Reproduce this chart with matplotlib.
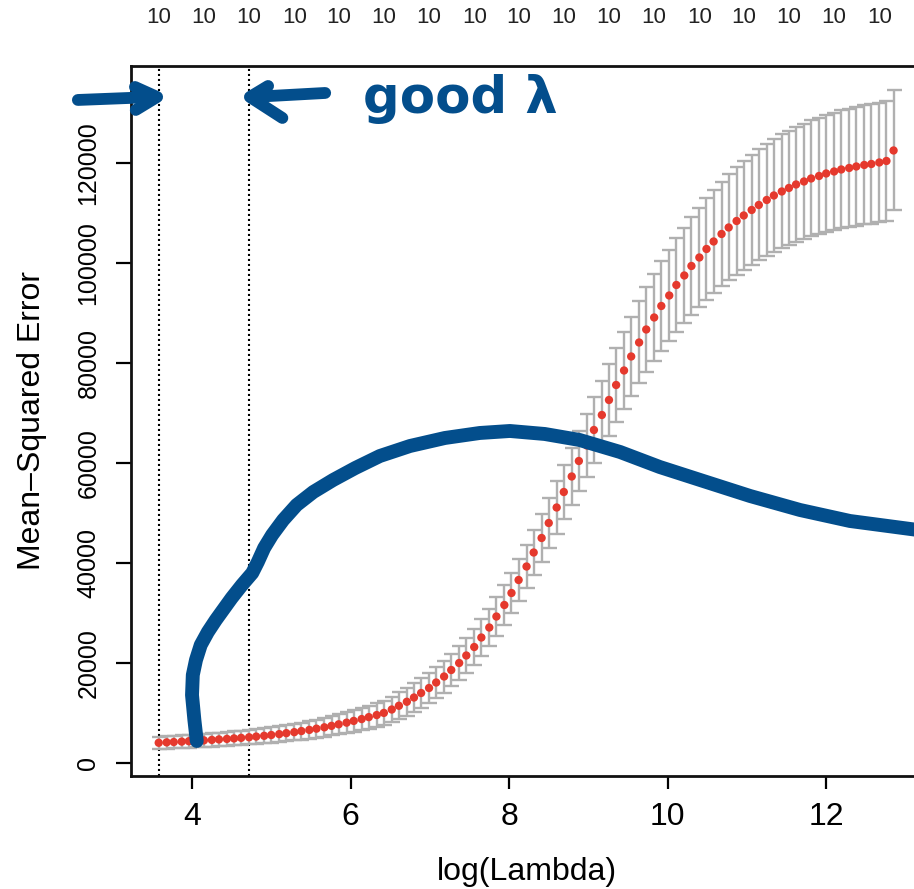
import matplotlib.pyplot as plt

plt.rcParams['font.family'] = ['Liberation Sans', 'DejaVu Sans']

# log(lambda) grid of the cv fit
log_lambda = [3.58, 3.68, 3.77, 3.87, 3.96, 4.06, 4.15, 4.25, 4.34, 4.44,
              4.53, 4.62, 4.72, 4.81, 4.91, 5.00, 5.10, 5.19, 5.29, 5.38,
              5.48, 5.57, 5.67, 5.76, 5.85, 5.95, 6.04, 6.14, 6.23, 6.33,
              6.42, 6.52, 6.61, 6.71, 6.80, 6.89, 6.99, 7.08, 7.18, 7.27,
              7.37, 7.46, 7.56, 7.65, 7.75, 7.84, 7.94, 8.03, 8.12, 8.22,
              8.31, 8.41, 8.50, 8.60, 8.69, 8.79, 8.88, 8.98, 9.07, 9.17,
              9.26, 9.35, 9.45, 9.54, 9.64, 9.73, 9.83, 9.92, 10.02, 10.11,
              10.21, 10.30, 10.40, 10.49, 10.58, 10.68, 10.77, 10.87, 10.96, 11.06,
              11.15, 11.25, 11.34, 11.44, 11.53, 11.62, 11.72, 11.81, 11.91, 12.00,
              12.10, 12.19, 12.29, 12.38, 12.48, 12.57, 12.67, 12.76, 12.85]

mse = [4050, 4130, 4200, 4280, 4360, 4440, 4530, 4620, 4720, 4820,
       4920, 5030, 5150, 5290, 5440, 5600, 5780, 5970, 6170, 6390,
       6620, 6870, 7140, 7430, 7740, 8070, 8420, 8790, 9180, 9590,
       10020, 10700, 11450, 12250, 13100, 14000, 15000, 16100, 17300, 18600,
       20000, 21500, 23200, 25100, 27100, 29300, 31600, 34000, 36600, 39300,
       42100, 45000, 48000, 51100, 54200, 57300, 60400, 63500, 66600, 69600,
       72600, 75600, 78500, 81300, 84100, 86700, 89100, 91400, 93500, 95600,
       97500, 99400, 101100, 102800, 104300, 105800, 107100, 108400, 109500, 110600,
       111600, 112600, 113500, 114300, 115000, 115700, 116300, 116900, 117400, 117900,
       118300, 118700, 119000, 119300, 119600, 119800, 120100, 120400, 122500]

mse_se = [1250, 1260, 1270, 1280, 1290, 1300, 1310, 1330, 1350, 1370,
          1390, 1410, 1430, 1460, 1490, 1520, 1560, 1600, 1640, 1690,
          1740, 1790, 1850, 1910, 1980, 2050, 2130, 2210, 2300, 2390,
          2480, 2570, 2660, 2750, 2840, 2930, 3020, 3110, 3200, 3290,
          3380, 3470, 3560, 3650, 3740, 3830, 3920, 4050, 4200, 4370,
          4560, 4770, 5000, 5240, 5490, 5750, 6020, 6300, 6580, 6860,
          7140, 7420, 7700, 7950, 8200, 8450, 8700, 8950, 9150, 9350,
          9550, 9750, 9950, 10150, 10300, 10450, 10600, 10750, 10900, 11000,
          11100, 11200, 11300, 11400, 11450, 11500, 11550, 11600, 11650, 11700,
          11750, 11800, 11850, 11900, 11900, 11950, 11950, 12000, 12000]

n_nonzero = [10] * len(log_lambda)
lambda_min = 3.58
lambda_1se = 4.72

# hand drawn marks on top of the plot (data coords)
scribble_x = [4.06, 4.03, 4.00, 4.01, 4.05, 4.11, 4.20, 4.30, 4.40, 4.50,
              4.63, 4.76, 4.83, 4.91, 5.01, 5.15, 5.32, 5.53, 5.78, 6.06,
              6.37, 6.75, 7.19, 7.63, 8.01, 8.45, 8.89, 9.40, 9.90, 10.41,
              11.04, 11.67, 12.30, 13.30]
scribble_y = [4400, 8600, 13600, 17600, 20600, 23600, 26200, 28600, 30800, 33000,
              35600, 38000, 40200, 43000, 45600, 48600, 51600, 54200, 56600, 59000,
              61400, 63400, 65000, 66000, 66400, 65800, 64600, 62200, 59200, 56600,
              53400, 50600, 48400, 46300]
arrow_left_x = [2.56, 3.53]
arrow_left_y = [132600, 133200]
head_left_x = [3.28, 3.56, 3.29]
head_left_y = [135200, 133200, 130600]
arrow_right_x = [5.68, 4.76]
arrow_right_y = [134000, 133200]
head_right_x = [4.96, 4.73, 5.14]
head_right_y = [135400, 133200, 129000]
note_text = 'good λ'

ink = '#034e8c'

fig = plt.figure(figsize=(9.14, 8.89), dpi=100)
ax = fig.add_axes([0.1433, 0.1271, 0.8621, 0.7987])

ax.errorbar(log_lambda, mse, yerr=mse_se, fmt='none', ecolor='#b0b0b0',
            elinewidth=1.7, capsize=5.4, capthick=1.7, zorder=2)
ax.scatter(log_lambda, mse, s=36, color='#e5392d', edgecolors='none', zorder=3)

for v in (lambda_min, lambda_1se):
    ax.axvline(v, color='black', linestyle=(0, (1, 1.4)), linewidth=1.5, zorder=1.5)

ax.set_xlim(3.23, 13.17)
ax.set_ylim(-2600, 139400)

for s in ax.spines.values():
    s.set_linewidth(2)
    s.set_color('#111111')

ax.set_xticks([4, 6, 8, 10, 12])
ax.tick_params(axis='x', direction='out', length=9.5, width=1.6, pad=9, labelsize=23)
yt = list(range(0, 120001, 20000))
ax.set_yticks(yt)
ax.set_yticklabels([str(v) for v in yt], rotation=90, va='center')
ax.tick_params(axis='y', direction='out', length=11, width=1.6, pad=11, labelsize=18)

ax_top = ax.twiny()
ax_top.set_xlim(ax.get_xlim())
ax_top.set_xticks(log_lambda[::6])
ax_top.set_xticklabels([str(n) for n in n_nonzero[::6]])
ax_top.tick_params(axis='x', length=0, pad=27, labelsize=16, labelcolor='#222222')
for s in ax_top.spines.values():
    s.set_visible(False)

fig.text(527 / 914, 1 - 880 / 889, 'log(Lambda)', ha='center', va='baseline', fontsize=23)
fig.text(32 / 914, 1 - 420 / 889, 'Mean–Squared Error', ha='center', va='center',
         rotation=90, fontsize=23)

# the scribbles
ax.plot(scribble_x, scribble_y, color=ink, linewidth=10, solid_capstyle='round',
        solid_joinstyle='round', zorder=5)
for xs, ys in [(arrow_left_x, arrow_left_y), (head_left_x, head_left_y),
               (arrow_right_x, arrow_right_y), (head_right_x, head_right_y)]:
    ax.plot(xs, ys, color=ink, linewidth=8.5, solid_capstyle='round',
            solid_joinstyle='round', clip_on=False, zorder=5)
ax.text(7.38, 130000, note_text, color=ink, fontsize=37, fontweight='bold',
        family='DejaVu Sans', ha='center', va='baseline', zorder=5)

fig.savefig('out.png', dpi=100)
